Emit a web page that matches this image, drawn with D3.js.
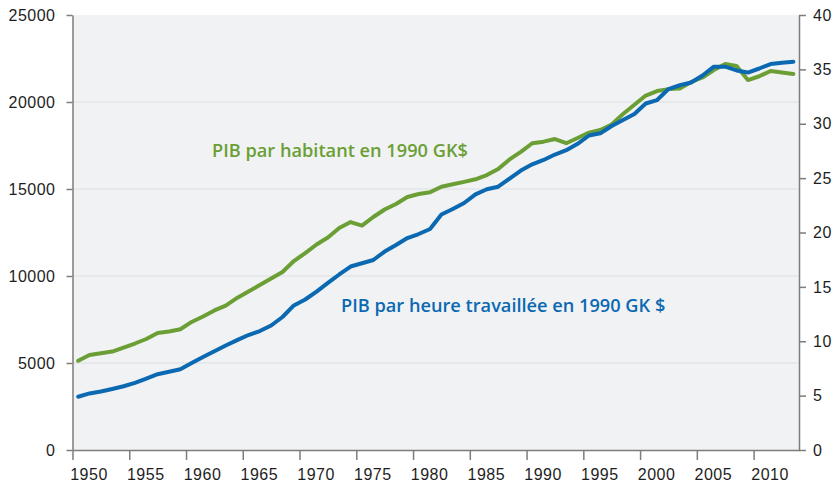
<!DOCTYPE html>
<html>
<head>
<meta charset="utf-8">
<script src="https://cdn.jsdelivr.net/npm/d3@7"></script>
<style>
  body { margin: 0; background: #fff; }
  svg { display: block; font-family: "Open Sans", sans-serif; }
  .axis text { font-size: 16px; fill: #1e1e1e; letter-spacing: 0.5px; }
  .axis path, .axis line { stroke: #7d7d7d; stroke-width: 1.5; }
</style>
</head>
<body>
<svg id="chart"></svg>
<script>
const width = 838;
const height = 486;

const years = d3.range(1950, 2014);

// PIB par habitant, 1990 GK$ (axe de gauche)
const pibHabitant = [
  5130, 5460, 5560, 5660, 5890, 6120, 6380, 6720, 6810, 6940,
  7360, 7670, 8020, 8300, 8740, 9110, 9480, 9850, 10230, 10860,
  11320, 11810, 12210, 12760, 13100, 12900, 13390, 13820, 14140, 14540,
  14710, 14810, 15130, 15270, 15410, 15560, 15800, 16150, 16700, 17130,
  17630, 17720, 17870, 17630, 17930, 18240, 18390, 18710, 19310, 19840,
  20370, 20630, 20740, 20780, 21150, 21410, 21840, 22180, 22070, 21260,
  21480, 21780, 21700, 21610
];

// PIB par heure travaillée, 1990 GK $ (axe de droite)
const pibHeure = [
  4.90, 5.20, 5.38, 5.61, 5.86, 6.18, 6.57, 6.97, 7.19, 7.43,
  8.00, 8.55, 9.08, 9.61, 10.10, 10.57, 10.94, 11.45, 12.23, 13.29,
  13.84, 14.57, 15.36, 16.14, 16.87, 17.17, 17.47, 18.25, 18.85, 19.49,
  19.86, 20.32, 21.65, 22.16, 22.71, 23.51, 23.98, 24.21, 24.96, 25.70,
  26.27, 26.67, 27.17, 27.57, 28.16, 28.92, 29.12, 29.79, 30.34, 30.90,
  31.86, 32.18, 33.19, 33.54, 33.79, 34.44, 35.25, 35.25, 34.90, 34.71,
  35.08, 35.49, 35.60, 35.70
];

const leftTicks = [0, 5000, 10000, 15000, 20000, 25000];
const rightTicks = [0, 5, 10, 15, 20, 25, 30, 35, 40];
const xTicks = [1950, 1955, 1960, 1965, 1970, 1975, 1980, 1985, 1990, 1995, 2000, 2005, 2010];

const green = "#6b9f35";
const blue = "#0b69b2";

const svg = d3.select("#chart")
    .attr("width", width)
    .attr("height", height);

const x = d3.scaleLinear().domain([1950, 2014]).range([72.5, 799]);
const yL = d3.scaleLinear().domain([0, 25000]).range([450, 15]);
const yR = d3.scaleLinear().domain([0, 40]).range([450, 15]);

// fond de la zone de tracé
svg.append("rect")
    .attr("x", x(1950))
    .attr("y", yL(25000))
    .attr("width", x(2014) - x(1950))
    .attr("height", yL(0) - yL(25000))
    .attr("fill", "#f1f2f4");

// grille horizontale
svg.append("g")
    .selectAll("line")
    .data(leftTicks.filter(d => d > 0 && d < 25000))
    .enter().append("line")
    .attr("x1", x(1950))
    .attr("x2", x(2014))
    .attr("y1", d => yL(d))
    .attr("y2", d => yL(d))
    .attr("stroke", "#dcdde1")
    .attr("stroke-width", 1.2);

const line = (scale) => d3.line()
    .x((d, i) => x(years[i] + 0.5))
    .y(d => scale(d));

svg.append("path")
    .datum(pibHabitant)
    .attr("d", line(yL))
    .attr("fill", "none")
    .attr("stroke", green)
    .attr("stroke-width", 4)
    .attr("stroke-linejoin", "round")
    .attr("stroke-linecap", "round");

svg.append("path")
    .datum(pibHeure)
    .attr("d", line(yR))
    .attr("fill", "none")
    .attr("stroke", blue)
    .attr("stroke-width", 4)
    .attr("stroke-linejoin", "round")
    .attr("stroke-linecap", "round");

// axes
svg.append("g")
    .attr("class", "axis")
    .attr("transform", `translate(${x(1950)},0)`)
    .call(d3.axisLeft(yL).tickValues(leftTicks).tickSize(6).tickSizeOuter(0).tickPadding(11).tickFormat(d3.format("d")));

svg.append("g")
    .attr("class", "axis")
    .attr("transform", `translate(${x(2014)},0)`)
    .call(d3.axisRight(yR).tickValues(rightTicks).tickSize(7).tickSizeOuter(0).tickPadding(7));

const xAxis = svg.append("g")
    .attr("class", "axis")
    .attr("transform", `translate(0,${yL(0)})`)
    .call(d3.axisBottom(x).tickValues(xTicks).tickSize(10).tickSizeOuter(0).tickFormat(d3.format("d")));

xAxis.selectAll("text")
    .attr("y", 30)
    .attr("dy", 0)
    .attr("dx", 16);

// étiquettes des séries
svg.append("text")
    .attr("x", 212)
    .attr("y", 157)
    .attr("fill", green)
    .attr("font-size", 18.2)
    .attr("font-weight", 600)
    .text("PIB par habitant en 1990 GK$");

svg.append("text")
    .attr("x", 341)
    .attr("y", 311.5)
    .attr("fill", blue)
    .attr("font-size", 18.2)
    .attr("font-weight", 600)
    .text("PIB par heure travaillée en 1990 GK $");
</script>
</body>
</html>
